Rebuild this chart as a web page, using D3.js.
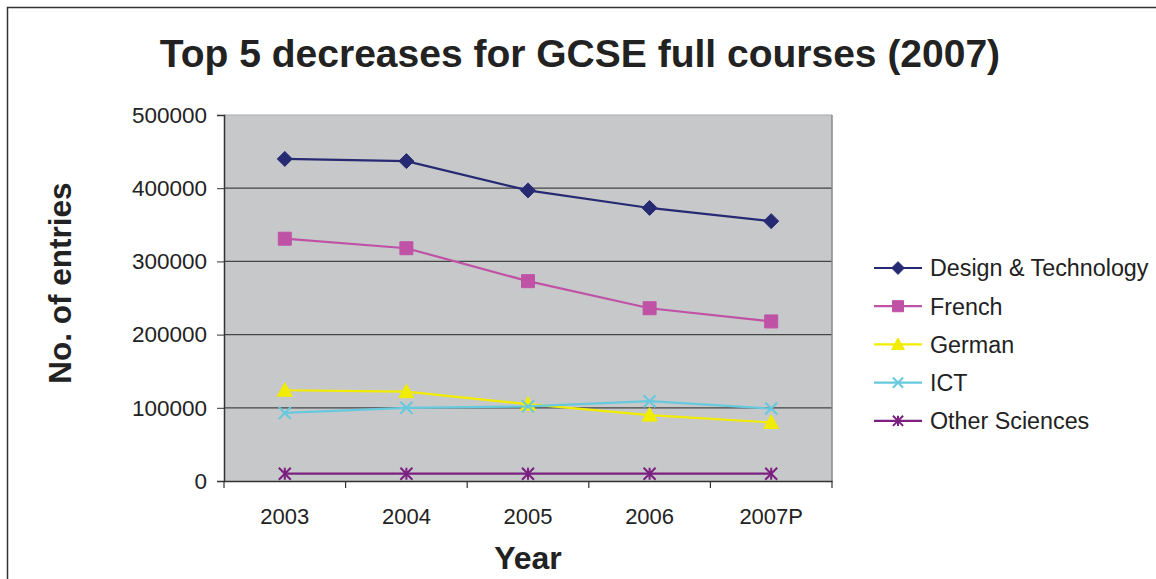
<!DOCTYPE html>
<html><head><meta charset="utf-8">
<script src="https://cdn.jsdelivr.net/npm/d3@7"></script>
<style>
html,body{margin:0;padding:0;background:#fff;}
svg{display:block;}
text{font-family:"Liberation Sans",Arial,sans-serif;fill:#222;}
</style></head>
<body>
<script>
const years = ["2003","2004","2005","2006","2007P"];
const seriesNames = ["Design & Technology","French","German","ICT","Other Sciences"];
const designTech = [440000,437000,397000,373000,355000];
const french = [331000,318000,273000,236000,218000];
const german = [124000,122000,105000,90000,80000];
const ict = [93000,100000,102000,109000,99000];
const otherSciences = [10000,10000,10000,10000,10000];
const yTicks = [0,100000,200000,300000,400000,500000];
const colors = ["#262a72","#c052a6","#f2ec00","#66c9dd","#7b1f80"];
const markers = ["diamond","square","triangle","x","star"];
const seriesValues = [designTech,french,german,ict,otherSciences];

const W=1156,H=579;
const svg=d3.select("body").append("svg").attr("width",W).attr("height",H);
// frame
svg.append("path").attr("d","M7.5,579 V7.5 H1156").attr("fill","none").attr("stroke","#333").attr("stroke-width",1.5);

const L=224,R=832,T=115,B=481;
const x=d3.scaleBand().domain(years).range([L,R]);
const y=d3.scaleLinear().domain([0,500000]).range([B,T]);

svg.append("rect").attr("x",L).attr("y",T).attr("width",R-L).attr("height",B-T).attr("fill","#c7c8ca");
// gridlines
svg.append("g").selectAll("line").data(yTicks.filter(d=>d>0)).join("line")
  .attr("x1",L).attr("x2",R).attr("y1",d=>y(d)).attr("y2",d=>y(d))
  .attr("stroke",d=>d===500000?"#aaa":"#444").attr("stroke-width",1.2);
svg.append("line").attr("x1",R).attr("x2",R).attr("y1",T).attr("y2",B).attr("stroke","#888").attr("stroke-width",1.5);

// y axis
const ya=svg.append("g").attr("transform",`translate(${L},0)`)
 .call(d3.axisLeft(y).tickValues(yTicks).tickFormat(d3.format("d")).tickSize(7).tickPadding(10));
ya.select(".domain").attr("stroke","#333").attr("stroke-width",1.5);
ya.selectAll(".tick line").attr("stroke","#333");
ya.selectAll("text").style("font-size","22.5px").attr("fill","#222");

// x axis
const xa=svg.append("g").attr("transform",`translate(0,${B})`)
 .call(d3.axisBottom(x).tickSize(0).tickPadding(27));
xa.select(".domain").attr("stroke","#333").attr("stroke-width",1.5);
xa.selectAll("text").style("font-size","22px").attr("fill","#222");
// category boundary ticks
const bounds=years.map(d=>x(d)).concat([R]);
xa.selectAll(".bt").data(bounds).join("line").attr("class","bt")
  .attr("x1",d=>d).attr("x2",d=>d).attr("y1",0).attr("y2",7).attr("stroke","#333").attr("stroke-width",1.2);

function markerPath(type,s){
  const h=s/2;
  switch(type){
    case "diamond": return `M0,${-h}L${h},0L0,${h}L${-h},0Z`;
    case "square": return `M${-h},${-h}H${h}V${h}H${-h}Z`;
    case "triangle": return `M0,${-h}L${h},${h*0.8}L${-h},${h*0.8}Z`;
    case "x": return `M${-h},${-h}L${h},${h}M${h},${-h}L${-h},${h}`;
    case "star": return `M${-h},${-h}L${h},${h}M${h},${-h}L${-h},${h}M0,${-h}V${h}`;
  }
}
const msize=[15,13,15,12,12];
const line=d3.line().x((d,i)=>x(years[i])+x.bandwidth()/2).y(d=>y(d));
seriesValues.forEach((vals,si)=>{
  const g=svg.append("g");
  g.append("path").attr("d",line(vals)).attr("fill","none").attr("stroke",colors[si]).attr("stroke-width",2.2);
  g.selectAll("path.m").data(vals).join("path").attr("class","m")
   .attr("transform",(d,i)=>`translate(${x(years[i])+x.bandwidth()/2},${y(d)})`)
   .attr("d",markerPath(markers[si],msize[si]))
   .attr("fill",(markers[si]==="x"||markers[si]==="star")?"none":colors[si])
   .attr("stroke",colors[si]).attr("stroke-width",(markers[si]==="x"||markers[si]==="star")?2:1);
});

// legend
const lg=svg.append("g");
seriesNames.forEach((n,i)=>{
  const yy=268+i*38.2;
  lg.append("line").attr("x1",874).attr("x2",922).attr("y1",yy).attr("y2",yy).attr("stroke",colors[i]).attr("stroke-width",2.2);
  lg.append("path").attr("transform",`translate(898,${yy})`).attr("d",markerPath(markers[i],msize[i]*0.85))
   .attr("fill",(markers[i]==="x"||markers[i]==="star")?"none":colors[i]).attr("stroke",colors[i]).attr("stroke-width",(markers[i]==="x"||markers[i]==="star")?2:1);
  lg.append("text").attr("x",930).attr("y",yy).attr("dy","0.36em").style("font-size","23.3px").text(n);
});

// titles
svg.append("text").attr("x",580).attr("y",67).attr("text-anchor","middle")
  .style("font-size","39px").style("font-weight","bold").attr("fill","#111").text("Top 5 decreases for GCSE full courses (2007)");
svg.append("text").attr("x",528).attr("y",569).attr("text-anchor","middle")
  .style("font-size","32px").style("font-weight","bold").attr("fill","#111").text("Year");
svg.append("text").attr("transform","translate(71,283) rotate(-90)").attr("text-anchor","middle")
  .style("font-size","31.5px").style("font-weight","bold").attr("fill","#111").text("No. of entries");
</script>
</body></html>
